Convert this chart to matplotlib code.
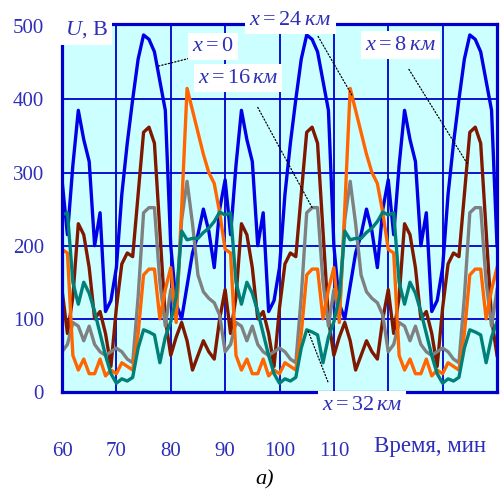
import numpy as np
import matplotlib as mpl
mpl.use('Agg')
import matplotlib.pyplot as plt

plt.rcParams['font.family'] = ['Liberation Serif', 'DejaVu Serif']
plt.rcParams['mathtext.fontset'] = 'custom'
plt.rcParams['mathtext.rm'] = 'Liberation Serif'
plt.rcParams['mathtext.it'] = 'Liberation Serif:italic'

# time, minutes
t = np.arange(60, 141)

# voltage, V (1-min steps)
u_x0 = [290, 215, 310, 385, 345, 315, 200, 245, 110, 125, 170, 270, 340, 400, 455, 488, 482, 465, 425, 385,
        200, 120, 100, 145, 190, 215, 250, 220, 170, 250,
        290, 215, 310, 385, 345, 315, 200, 245, 110, 125, 170, 270, 340, 400, 455, 488, 482, 465, 425, 385,
        200, 120, 100, 145, 190, 215, 250, 220, 170, 250,
        290, 215, 310, 385, 345, 315, 200, 245, 110, 125, 170, 270, 340, 400, 455, 488, 482, 465, 425, 385,
        200]
u_x8 = [140, 80, 130, 230, 215, 170, 100, 110, 80, 35, 115, 175, 190, 185, 270, 355, 362, 340, 220, 100,
        50, 75, 95, 70, 30, 50, 70, 55, 45, 100,
        140, 80, 130, 230, 215, 170, 100, 110, 80, 35, 115, 175, 190, 185, 270, 355, 362, 340, 220, 100,
        50, 75, 95, 70, 30, 50, 70, 55, 45, 100,
        140, 80, 130, 230, 215, 170, 100, 110, 80, 35, 115, 175, 190, 185, 270, 355, 362, 340, 220, 100,
        50]
u_x16 = [55, 65, 95, 90, 70, 90, 65, 55, 50, 55, 60, 55, 45, 40, 130, 245, 252, 252, 150, 90,
         140, 105, 235, 288, 230, 160, 137, 128, 122, 105,
         55, 65, 95, 90, 70, 90, 65, 55, 50, 55, 60, 55, 45, 40, 130, 245, 252, 252, 150, 90,
         140, 105, 235, 288, 230, 160, 137, 128, 122, 105,
         55, 65, 95, 90, 70, 90, 65, 55, 50, 55, 60, 55, 45, 40, 130, 245, 252, 252, 150, 90,
         140]
u_x24 = [195, 190, 50, 30, 45, 25, 25, 45, 22, 30, 25, 40, 35, 30, 80, 160, 168, 168, 100, 140,
         170, 95, 250, 415, 385, 355, 325, 300, 285, 245,
         195, 190, 50, 30, 45, 25, 25, 45, 22, 30, 25, 40, 35, 30, 80, 160, 168, 168, 100, 140,
         170, 95, 250, 415, 385, 355, 325, 300, 285, 245,
         195, 190, 50, 30, 45, 25, 25, 45, 22, 30, 25, 40, 35, 30, 80, 160, 168, 168, 100, 140,
         170]
u_x32 = [242, 245, 150, 120, 150, 135, 110, 80, 50, 25, 12, 18, 15, 20, 60, 85, 82, 78, 40, 75,
         96, 130, 220, 208, 210, 210, 218, 224, 233, 246,
         242, 245, 150, 120, 150, 135, 110, 80, 50, 25, 12, 18, 15, 20, 60, 85, 82, 78, 40, 75,
         96, 130, 220, 208, 210, 210, 218, 224, 233, 246,
         242, 245, 150, 120, 150, 135, 110, 80, 50, 25, 12, 18, 15, 20, 60, 85, 82, 78, 40, 75,
         96]

xticks = [60, 70, 80, 90, 100, 110, 120, 130, 140]
xlabels = ['60', '70', '80', '90', '100', '110', '', '', '']
yticks = [0, 100, 200, 300, 400, 500]

blue = '#0000E6'
txt = '#2E2EB8'
frame = '#0000CC'

fig = plt.figure(figsize=(5.02, 4.90), dpi=100)
ax = fig.add_axes([62 / 502, 1 - 392 / 490, 435 / 502, 368 / 490])
ax.set_facecolor('#CCFFFF')
ax.set_xlim(60, 140)
ax.set_ylim(0, 503)

for y in yticks[1:-1]:
    ax.axhline(y, color=frame, lw=1.3, zorder=1)
for x in xticks[1:-1]:
    ax.axvline(x, color=frame, lw=1.3, zorder=1)

ax.plot(t, u_x0, color=blue, lw=2.4, zorder=2)
ax.plot(t, u_x8, color='#801800', lw=2.4, zorder=2)
ax.plot(t, u_x16, color='#808080', lw=2.4, zorder=2)
ax.plot(t, u_x24, color='#FF6600', lw=2.4, zorder=2)
ax.plot(t, u_x32, color='#008078', lw=2.4, zorder=2)

for s in ax.spines.values():
    s.set_color(frame)
    s.set_linewidth(2.3)

ax.set_xticks(xticks, xlabels)
ax.set_yticks(yticks)
ax.tick_params(length=0, labelsize=15, colors=txt)
ax.tick_params(axis='x', pad=36)
ax.tick_params(axis='y', pad=13)
ax.text(117.3, -0.149, 'Время, мин', transform=ax.get_xaxis_transform(),
        fontsize=16.5, color=txt, ha='left', va='center', clip_on=False)

box = dict(fc='white', ec='none', pad=3)
lab = dict(fontsize=16, color=txt, ha='center', va='center', bbox=box, zorder=6, clip_on=False)
ax.text(60.5, 495, '$U$, В', **dict(lab, ha='left'))
ax.text(87.8, 472, '$x = 0$', **lab)
ax.text(92.4, 429, r'$x = 16\,\mathit{км}$', **lab)
ax.text(102.0, 508, r'$x = 24\;\mathit{км}$', **lab)
ax.text(122.2, 474, r'$x = 8\;\mathit{км}$', **lab)
ax.text(115.2, -18, r'$x = 32\,\mathit{км}$', **lab)

lead = dict(arrowstyle='-', color='k', lw=0.9, ls=':', shrinkA=0, shrinkB=0)
ax.annotate('', xy=(77.5, np.interp(77.5, t, u_x0)), xytext=(83.9, 457), arrowprops=lead, zorder=5)
ax.annotate('', xy=(106.0, np.interp(106.0, t, u_x16)), xytext=(96.0, 389), arrowprops=lead, zorder=5)
ax.annotate('', xy=(113.3, np.interp(113.3, t, u_x24)), xytext=(107.1, 486), arrowprops=lead, zorder=5)
ax.annotate('', xy=(134.5, np.interp(134.5, t, u_x8)), xytext=(123.8, 441), arrowprops=lead, zorder=5)
ax.annotate('', xy=(105.2, np.interp(105.2, t, u_x32)), xytext=(108.9, 14), arrowprops=lead, zorder=5)

fig.text(265 / 502, 1 - 480 / 490, 'a)', fontsize=16, style='italic', ha='center', va='center')

fig.savefig('out.png', dpi=100)
